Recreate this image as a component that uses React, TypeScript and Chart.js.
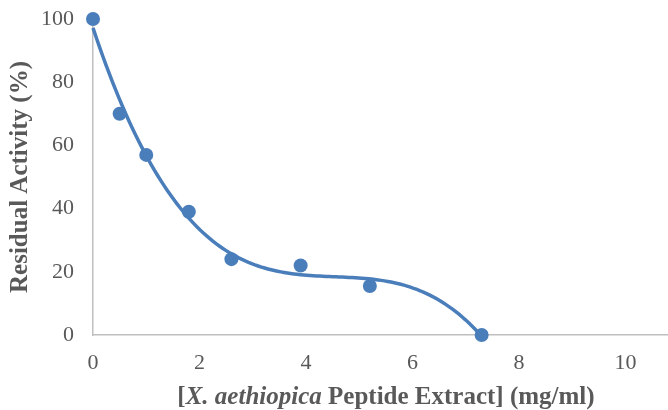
import React, { useEffect, useRef } from "react";
import { Chart, registerables } from "chart.js";

Chart.register(...registerables);

// Concentration of X. aethiopica peptide extract (mg/ml)
const concentrations = [0, 0.5, 1.0, 1.8, 2.6, 3.9, 5.2, 7.3];
// Residual activity (%)
const residualActivity = [100, 70, 57, 39, 24, 22, 15.5, 0];
const xTicks = [0, 2, 4, 6, 8, 10];
const yTicks = [0, 20, 40, 60, 80, 100];

const BLUE = "#4a7ebb";
const GREY_TEXT = "#595959";
const AXIS = "#bfbfbf";
const SERIF = "'Liberation Serif', 'Times New Roman', serif";

// Least-squares polynomial trendline (order 3) computed from the data
function polyFit(xs: number[], ys: number[], order: number): number[] {
  const n = order + 1;
  const A: number[][] = [];
  for (let r = 0; r < n; r++) {
    const row: number[] = [];
    for (let c = 0; c < n; c++) {
      let s = 0;
      for (const x of xs) s += Math.pow(x, r + c);
      row.push(s);
    }
    let b = 0;
    xs.forEach((x, i) => (b += Math.pow(x, r) * ys[i]));
    row.push(b);
    A.push(row);
  }
  for (let i = 0; i < n; i++) {
    let p = i;
    for (let k = i + 1; k < n; k++) if (Math.abs(A[k][i]) > Math.abs(A[p][i])) p = k;
    [A[i], A[p]] = [A[p], A[i]];
    for (let k = 0; k < n; k++) {
      if (k === i) continue;
      const f = A[k][i] / A[i][i];
      for (let c = i; c <= n; c++) A[k][c] -= f * A[i][c];
    }
  }
  return A.map((row, i) => row[n] / row[i]);
}

// Stretch the plot area to the right edge of the canvas (axis line runs to the edge)
const stretchRight = {
  id: "stretchRight",
  afterLayout(chart: any) {
    const x = chart.scales.x;
    const right = chart.width;
    x.right = right;
    x.width = right - x.left;
    x.configure();
    chart.chartArea.right = right;
    chart.chartArea.width = right - chart.chartArea.left;
  },
};

export default function App() {
  const ref = useRef<HTMLCanvasElement | null>(null);

  useEffect(() => {
    if (!ref.current) return;
    const coef = polyFit(concentrations, residualActivity, 3);
    const xEnd = concentrations[concentrations.length - 1];
    const trend: { x: number; y: number }[] = [];
    const steps = 120;
    for (let i = 0; i <= steps; i++) {
      const x = (xEnd * i) / steps;
      const y = coef.reduce((s, c, k) => s + c * Math.pow(x, k), 0);
      trend.push({ x, y });
    }
    const points = concentrations.map((x, i) => ({ x, y: residualActivity[i] }));

    const chart = new Chart(ref.current, {
      type: "scatter",
      plugins: [stretchRight],
      data: {
        datasets: [
          {
            type: "line",
            label: "Trend",
            data: trend,
            borderColor: BLUE,
            borderWidth: 3.5,
            pointRadius: 0,
            tension: 0,
            fill: false,
            clip: false as any,
          },
          {
            label: "Residual Activity",
            data: points,
            backgroundColor: BLUE,
            borderColor: BLUE,
            pointRadius: 7,
            pointBorderWidth: 0,
            clip: false as any,
          },
        ],
      },
      options: {
        responsive: false,
        animation: false,
        devicePixelRatio: 1,
        layout: { padding: { top: 19, right: 0, left: 0, bottom: 0 } },
        plugins: { legend: { display: false }, tooltip: { enabled: false } },
        scales: {
          x: {
            type: "linear",
            min: 0,
            max: 10.8,
            afterBuildTicks: (s: any) => {
              s.ticks = xTicks.map((v) => ({ value: v }));
            },
            afterFit: (s: any) => {
              s.height = 75;
              s.paddingLeft = 0;
              s.paddingRight = 0;
            },
            grid: { display: false, drawTicks: false },
            border: { display: true, color: AXIS, width: 1.5 },
            ticks: {
              font: { family: SERIF, size: 22 },
              color: GREY_TEXT,
              padding: 15,
              maxRotation: 0,
            },
            title: { display: false },
          },
          y: {
            type: "linear",
            min: 0,
            max: 100,
            afterBuildTicks: (s: any) => {
              s.ticks = yTicks.map((v) => ({ value: v }));
            },
            afterFit: (s: any) => {
              s.width = 93;
              s.paddingTop = 0;
              s.paddingBottom = 0;
            },
            grid: { display: false, drawTicks: false },
            border: { display: true, color: AXIS, width: 1.5 },
            ticks: {
              font: { family: SERIF, size: 22 },
              color: GREY_TEXT,
              padding: 19,
            },
            title: {
              display: true,
              text: "Residual Activity (%)",
              font: { family: SERIF, size: 25, weight: "bold" },
              color: GREY_TEXT,
              padding: { top: 6, bottom: 0 },
            },
          },
        },
      },
    });
    return () => chart.destroy();
  }, []);

  return (
    <div
      style={{
        position: "absolute",
        left: 0,
        top: 0,
        width: 668,
        height: 410,
        background: "#ffffff",
        overflow: "hidden",
      }}
    >
      <canvas ref={ref} width={668} height={410} style={{ display: "block" }} />
      <div
        style={{
          position: "absolute",
          left: 0,
          width: 772,
          top: 383,
          textAlign: "center",
          fontFamily: SERIF,
          fontWeight: "bold",
          fontSize: 25,
          lineHeight: "25px",
          color: GREY_TEXT,
          whiteSpace: "nowrap",
        }}
      >
        [<i>X. aethiopica</i> Peptide Extract] (mg/ml)
      </div>
    </div>
  );
}
